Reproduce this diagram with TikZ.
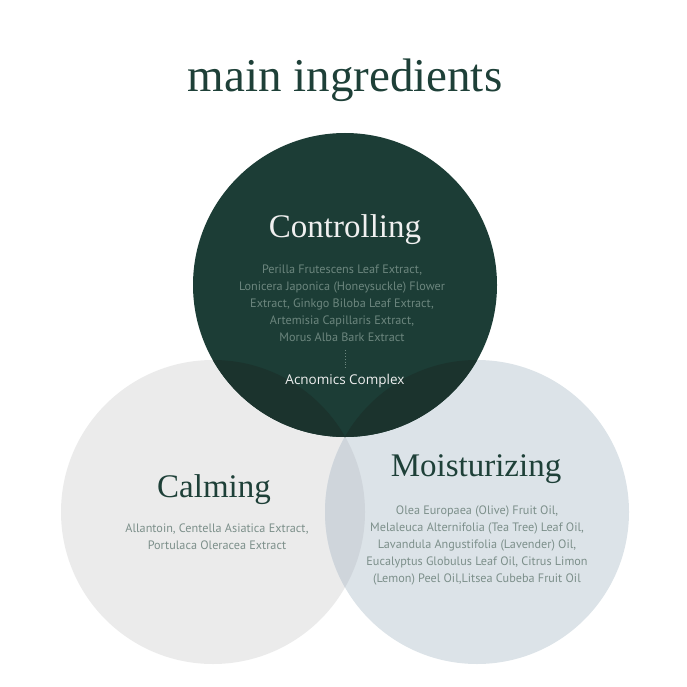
\documentclass[tikz,border=0pt]{standalone}
\usepackage{fontspec}
\setmainfont{Liberation Serif}
\setsansfont{PT Sans}
\newfontfamily\acnfont{Open Sans}
\usepackage{xcolor}
\usepackage{tikz}
\usetikzlibrary{positioning,calc}
\definecolor{ctlgreen}{RGB}{28,61,54}
\definecolor{ctldark}{RGB}{27,51,45}
\definecolor{ctlmid}{RGB}{31,64,57}
\definecolor{calmgray}{RGB}{235,235,235}
\definecolor{moistblue}{RGB}{220,227,232}
\definecolor{lensgray}{RGB}{207,213,219}
\definecolor{headgreen}{RGB}{30,64,56}
\definecolor{bodygray}{RGB}{124,143,138}
\definecolor{bodydark}{RGB}{108,134,126}
\newcommand{\Rad}{152}
\begin{document}
\begin{tikzpicture}[x=1pt,y=-1pt,
  head/.style={font=\fontsize{33}{35}\selectfont,text=headgreen,inner sep=0pt},
  body/.style={font=\sffamily\fontsize{12.2}{16.8}\selectfont,text=bodygray,
    align=center,inner sep=0pt},
  title/.style={font=\fontsize{47}{49}\selectfont,text=headgreen,inner sep=0pt}]
  \useasboundingbox (0,0) rectangle (687,687);
  \coordinate (cT) at (345,285);
  \coordinate (cL) at (213,512);
  \coordinate (cR) at (477,512);
  % ---- circles ----
  \fill[calmgray] (cL) circle[radius=\Rad];
  \fill[moistblue] (cR) circle[radius=\Rad];
  \begin{scope}
    \clip (cL) circle[radius=\Rad];
    \fill[lensgray] (cR) circle[radius=\Rad];
  \end{scope}
  \fill[ctlgreen] (cT) circle[radius=\Rad];
  \begin{scope}
    \clip (cT) circle[radius=\Rad];
    \fill[ctldark] (cL) circle[radius=\Rad];
    \fill[ctldark] (cR) circle[radius=\Rad];
    \clip (cL) circle[radius=\Rad];
    \fill[ctlmid] (cR) circle[radius=\Rad];
  \end{scope}
  % ---- title ----
  \node[title] (ttl) at (345,80) {main ingredients};
  % ---- controlling ----
  \node[head,text=white!94!black] (ctl) at (345,230) {Controlling};
  \node[body,text=bodydark,anchor=north] (ctlx) at (342,265)
     {Perilla Frutescens Leaf Extract,\\
      Lonicera Japonica (Honeysuckle) Flower\\
      Extract, Ginkgo Biloba Leaf Extract,\\
      Artemisia Capillaris Extract,\\
      Morus Alba Bark Extract};
  \node[font=\acnfont\fontsize{13.5}{15}\selectfont,text=white!94!black,
        inner sep=0pt] (acn) at (345,381) {Acnomics Complex};
  \coordinate (d1) at ($(ctlx.south)+(3,9)$);
  \draw[bodydark,dotted,line width=0.8pt] (d1) -- ($(d1|-acn.north)+(0,-6)$);
  % ---- calming ----
  \node[head] (clm) at (214,490) {Calming};
  \node[body,anchor=north] (clmx) at (217,524)
     {Allantoin, Centella Asiatica Extract,\\
      Portulaca Oleracea Extract};
  % ---- moisturizing ----
  \node[head] (mst) at (476,469) {Moisturizing};
  \node[body,anchor=north] (mstx) at (477,506)
     {Olea Europaea (Olive) Fruit Oil,\\
      Melaleuca Alternifolia (Tea Tree) Leaf Oil,\\
      Lavandula Angustifolia (Lavender) Oil,\\
      Eucalyptus Globulus Leaf Oil, Citrus Limon\\
      (Lemon) Peel Oil,Litsea Cubeba Fruit Oil};
\end{tikzpicture}
\end{document}
